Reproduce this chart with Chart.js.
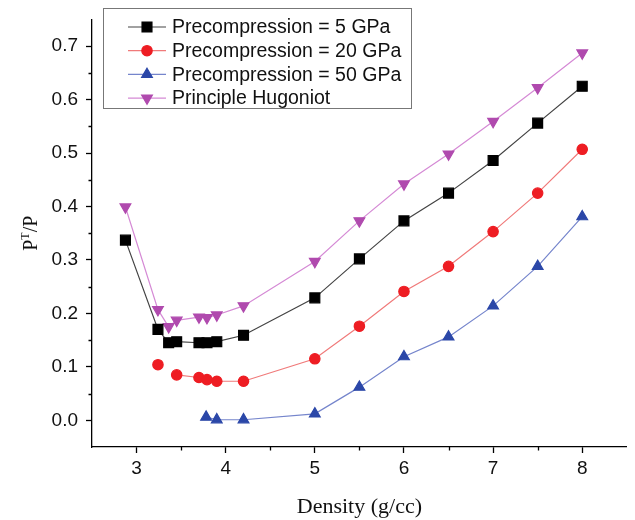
<!DOCTYPE html>
<html>
<head>
<meta charset="utf-8">
<script src="https://cdn.jsdelivr.net/npm/chart.js@4.4.1/dist/chart.umd.min.js"></script>
<style>
  html, body { margin: 0; padding: 0; background: #fff; }
  #wrap { width: 635px; height: 520px; }
</style>
</head>
<body>
<div id="wrap"><canvas id="ptChart" width="635" height="520"></canvas></div>
<script>
// density values (g/cc)
var densityMain = [2.875, 3.24, 3.36, 3.45, 3.70, 3.79, 3.90, 4.2, 5, 5.5, 6, 6.5, 7, 7.5, 8];
var densityRed = [3.24, 3.45, 3.70, 3.79, 3.90, 4.2, 5, 5.5, 6, 6.5, 7, 7.5, 8];
var densityBlue = [3.78, 3.90, 4.2, 5, 5.5, 6, 6.5, 7, 7.5, 8];

// PT/P ratios
var pre5 = [0.337, 0.170, 0.145, 0.147, 0.145, 0.145, 0.147, 0.159, 0.229, 0.302, 0.373, 0.425, 0.486, 0.556, 0.625];
var pre20 = [0.104, 0.085, 0.080, 0.076, 0.073, 0.073, 0.115, 0.176, 0.241, 0.288, 0.353, 0.425, 0.507];
var pre50 = [0.006, 0.001, 0.001, 0.012, 0.062, 0.119, 0.156, 0.214, 0.288, 0.381];
var hugoniot = [0.399, 0.207, 0.175, 0.187, 0.193, 0.192, 0.197, 0.214, 0.297, 0.373, 0.442, 0.498, 0.559, 0.622, 0.687];

var seriesNames = ["Precompression = 5 GPa", "Precompression = 20 GPa", "Precompression = 50 GPa", "Principle Hugoniot"];

var xTicks = [3, 4, 5, 6, 7, 8];
var xMinor = [3.5, 4.5, 5.5, 6.5, 7.5];
var yTicks = [0, 0.1, 0.2, 0.3, 0.4, 0.5, 0.6, 0.7];
var yMinor = [0.05, 0.15, 0.25, 0.35, 0.45, 0.55, 0.65];

function pts(xs, ys) {
  return xs.map(function (x, i) { return { x: x, y: ys[i] }; });
}

// minor ticks drawn outside the axes
var minorTicks = {
  id: "minorTicks",
  afterDraw: function (chart) {
    var c = chart.ctx, xs = chart.scales.x, ys = chart.scales.y;
    c.save();
    c.strokeStyle = "#000";
    c.lineWidth = 1.3;
    c.beginPath();
    xMinor.forEach(function (v) {
      var px = Math.round(xs.getPixelForValue(v)) + 0.5;
      c.moveTo(px, xs.top);
      c.lineTo(px, xs.top + 3.5);
    });
    yMinor.forEach(function (v) {
      var py = Math.round(ys.getPixelForValue(v)) + 0.5;
      c.moveTo(ys.right, py);
      c.lineTo(ys.right - 3.5, py);
    });
    c.stroke();
    c.restore();
  }
};

// y title with a raised T: P^T/P
var yTitle = {
  id: "yTitle",
  afterDraw: function (chart) {
    var c = chart.ctx, a = chart.chartArea;
    var big = '20px "Liberation Serif", "Times New Roman", serif';
    var small = '12px "Liberation Serif", "Times New Roman", serif';
    c.save();
    c.translate(37, (a.top + a.bottom) / 2);
    c.rotate(-Math.PI / 2);
    c.fillStyle = "#111";
    c.textBaseline = "alphabetic";
    c.font = big;
    var w1 = c.measureText("P").width, w3 = c.measureText("/P").width;
    c.font = small;
    var w2 = c.measureText("T").width;
    var x = -(w1 + w2 + w3) / 2;
    c.font = big;
    c.fillText("P", x, 0);
    c.font = small;
    c.fillText("T", x + w1, -8);
    c.font = big;
    c.fillText("/P", x + w1 + w2, 0);
    c.restore();
  }
};

// boxed legend inside the plot, line + marker samples
var boxLegend = {
  id: "boxLegend",
  afterDraw: function (chart) {
    var c = chart.ctx;
    c.save();
    c.strokeStyle = "#777";
    c.lineWidth = 1;
    c.strokeRect(103.5, 8.5, 308, 100);
    c.font = '19.5px "Liberation Sans", Arial, sans-serif';
    c.textBaseline = "middle";
    c.fillStyle = "#111";
    chart.data.datasets.forEach(function (ds, i) {
      var y = 27 + i * 23.7;
      c.strokeStyle = ds.borderColor;
      c.lineWidth = 1.2;
      c.beginPath();
      c.moveTo(128, y);
      c.lineTo(166, y);
      c.stroke();
      c.fillStyle = ds.pointBackgroundColor;
      c.strokeStyle = ds.pointBorderColor;
      Chart.helpers.drawPoint(c, {
        pointStyle: ds.pointStyle,
        radius: ds.pointRadius,
        rotation: ds.pointRotation || 0,
        borderWidth: 1
      }, 147, y);
      c.fillStyle = "#111";
      c.fillText(seriesNames[i], 172, y + 1);
    });
    c.restore();
  }
};

var ctx = document.getElementById("ptChart").getContext("2d");
var ptChart = new Chart(ctx, {
  type: "scatter",
  data: {
    datasets: [
      {
        label: seriesNames[0],
        data: pts(densityMain, pre5),
        showLine: true,
        borderColor: "#444",
        borderWidth: 1.2,
        pointStyle: "rect",
        pointRadius: 7,
        pointBackgroundColor: "#000",
        pointBorderColor: "#000",
      },
      {
        label: seriesNames[1],
        data: pts(densityRed, pre20),
        showLine: true,
        borderColor: "#f07a7a",
        borderWidth: 1.2,
        // first point stands apart
        segment: {
          borderColor: function (s) { return s.p0DataIndex === 0 ? "rgba(0,0,0,0)" : undefined; }
        },
        pointStyle: "circle",
        pointRadius: 5.2,
        pointBackgroundColor: "#ee1d23",
        pointBorderColor: "#ee1d23",
      },
      {
        label: seriesNames[2],
        data: pts(densityBlue, pre50),
        showLine: true,
        borderColor: "#7585cc",
        borderWidth: 1.2,
        pointStyle: "triangle",
        pointRadius: 6.2,
        pointBackgroundColor: "#2b47a8",
        pointBorderColor: "#2b47a8",
      },
      {
        label: seriesNames[3],
        data: pts(densityMain, hugoniot),
        showLine: true,
        borderColor: "#d58ad5",
        borderWidth: 1.2,
        pointStyle: "triangle",
        pointRotation: 180,
        pointRadius: 6.2,
        pointBackgroundColor: "#b04aae",
        pointBorderColor: "#b04aae",
      },
    ],
  },
  options: {
    responsive: false,
    animation: false,
    layout: { padding: { top: 15, right: -4, left: 0, bottom: 0 } },
    plugins: {
      legend: { display: false },
      tooltip: { enabled: false },
    },
    scales: {
      x: {
        type: "linear",
        min: 2.5,
        max: 8.5,
        afterBuildTicks: function (s) { s.ticks = xTicks.map(function (v) { return { value: v }; }); },
        afterFit: function (s) { s.height = 73; },
        border: { display: true, color: "#000", width: 1.3 },
        grid: { drawOnChartArea: false, drawTicks: true, tickLength: 6, color: "#000", tickWidth: 1.3 },
        ticks: {
          padding: 4,
          color: "#111",
          font: { family: '"Liberation Sans", Arial, sans-serif', size: 19 },
        },
        title: {
          display: true,
          text: "Density (g/cc)",
          color: "#111",
          padding: { top: 1, bottom: 0 },
          font: { family: '"Liberation Serif", "Times New Roman", serif', size: 22 },
        },
      },
      y: {
        type: "linear",
        min: -0.05,
        max: 0.75,
        afterBuildTicks: function (s) { s.ticks = yTicks.map(function (v) { return { value: v }; }); },
        afterFit: function (s) { s.width = 92; },
        border: { display: true, color: "#000", width: 1.3 },
        grid: { drawOnChartArea: false, drawTicks: true, tickLength: 6, color: "#000", tickWidth: 1.3 },
        ticks: {
          padding: 8,
          color: "#111",
          font: { family: '"Liberation Sans", Arial, sans-serif', size: 19 },
          callback: function (v) { return v.toFixed(1); },
        },
        title: { display: false },
      },
    },
  },
  plugins: [minorTicks, yTitle, boxLegend],
});
</script>
</body>
</html>
